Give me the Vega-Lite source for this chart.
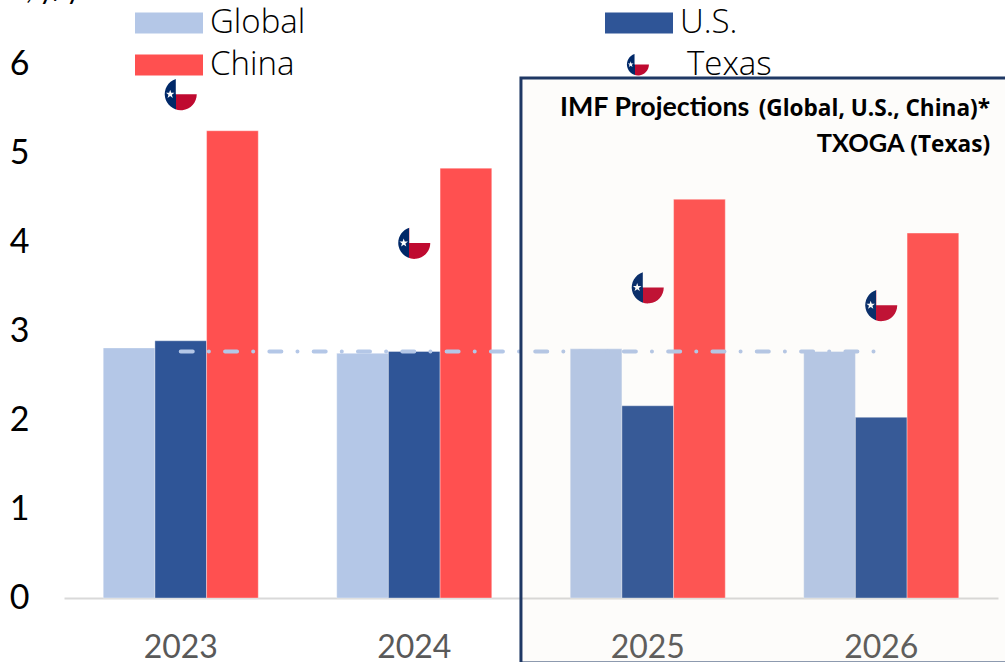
{
  "$schema": "https://vega.github.io/schema/vega-lite/v6.json",
  "width": 934,
  "height": 534,
  "autosize": "none",
  "padding": {"left": 64, "top": 64, "right": 7, "bottom": 64},
  "background": "#ffffff",
  "config": {"view": {"stroke": null}},
  "datasets": {
    "growth": [
      {"year": "2023", "series": "Global", "value": 2.81},
      {"year": "2023", "series": "U.S.", "value": 2.89},
      {"year": "2023", "series": "China", "value": 5.25},
      {"year": "2023", "series": "Texas", "value": 5.66},
      {"year": "2024", "series": "Global", "value": 2.75},
      {"year": "2024", "series": "U.S.", "value": 2.77},
      {"year": "2024", "series": "China", "value": 4.83},
      {"year": "2024", "series": "Texas", "value": 3.99},
      {"year": "2025", "series": "Global", "value": 2.8},
      {"year": "2025", "series": "U.S.", "value": 2.16},
      {"year": "2025", "series": "China", "value": 4.48},
      {"year": "2025", "series": "Texas", "value": 3.49},
      {"year": "2026", "series": "Global", "value": 2.77},
      {"year": "2026", "series": "U.S.", "value": 2.03},
      {"year": "2026", "series": "China", "value": 4.1},
      {"year": "2026", "series": "Texas", "value": 3.29}
    ],
    "globalAverage": [
      {"year": "2023", "value": 2.77},
      {"year": "2024", "value": 2.77},
      {"year": "2025", "value": 2.77},
      {"year": "2026", "value": 2.77}
    ]
  },
  "layer": [
    {
      "encoding": {
        "x": {
          "field": "year",
          "type": "nominal",
          "scale": {"domain": ["2023", "2024", "2025", "2026"], "paddingInner": 0.336, "paddingOuter": 0.168},
          "axis": {
            "title": null,
            "labelAngle": 0,
            "labelFont": "Lato",
            "labelFontSize": 32,
            "labelColor": "#595959",
            "labelPadding": 34,
            "ticks": false,
            "domainColor": "#D9D9D9",
            "domainWidth": 2
          }
        }
      },
      "layer": [
        {
          "data": {"name": "growth"},
          "transform": [{"filter": "datum.series !== 'Texas'"}],
          "mark": {"type": "bar", "stroke": "#ffffff", "strokeWidth": 0.6, "strokeOpacity": 0.6},
          "encoding": {
            "xOffset": {"field": "series", "type": "nominal", "scale": {"domain": ["Global", "U.S.", "China"]}},
            "y": {
              "field": "value",
              "type": "quantitative",
              "scale": {"domain": [0, 6], "nice": false},
              "axis": {
                "title": "%, y/y",
                "titleAngle": 0,
                "titleFont": "Lato",
                "titleFontSize": 29,
                "titleFontWeight": "normal",
                "titleColor": "#000000",
                "titleAlign": "left",
                "titleBaseline": "alphabetic",
                "titleX": -62,
                "titleY": -66,
                "values": [0, 1, 2, 3, 4, 5, 6],
                "format": "d",
                "grid": false,
                "domain": false,
                "ticks": false,
                "labelFont": "Lato",
                "labelFontSize": 34,
                "labelColor": "#000000",
                "labelPadding": 35
              }
            },
            "color": {
              "field": "series",
              "type": "nominal",
              "scale": {
                "domain": ["Global", "U.S.", "China", "Texas"],
                "range": ["#B4C7E7", "#2F5597", "#FF5050", "transparent"]
              },
              "legend": {
                "title": null,
                "orient": "none",
                "legendX": 71,
                "legendY": -62,
                "direction": "horizontal",
                "columns": 2,
                "columnPadding": 299,
                "rowPadding": 0,
                "clipHeight": 42,
                "padding": 0,
                "labelFont": "Open Sans",
                "labelFontWeight": 300,
                "labelFontSize": 33,
                "labelColor": "#000000",
                "labelOffset": 7,
                "symbolType": "M-1,-0.309H1V0.309H-1Z",
                "symbolSize": 4624,
                "symbolStrokeWidth": 0,
                "encoding": {
                  "labels": {
                    "dx": {
                      "condition": {"test": "datum.value === 'Texas'", "value": 7},
                      "value": 0
                    }
                  }
                }
              }
            }
          }
        },
        {
          "data": {"name": "globalAverage"},
          "mark": {
            "type": "line",
            "color": "#B4C7E7",
            "strokeWidth": 4,
            "strokeCap": "round",
            "strokeDash": [12, 16.1, 0.01, 16.2]
          },
          "encoding": {"y": {"field": "value", "type": "quantitative"}}
        },
        {
          "data": {"name": "growth"},
          "transform": [{"filter": "datum.series === 'Texas'"}],
          "mark": {"type": "point", "shape": "circle", "filled": true, "fill": "#ffffff", "opacity": 1, "size": 804},
          "encoding": {"y": {"field": "value", "type": "quantitative"}}
        },
        {
          "data": {"name": "growth"},
          "transform": [{"filter": "datum.series === 'Texas'"}],
          "mark": {
            "type": "point",
            "filled": true,
            "opacity": 1,
            "size": 1024,
            "shape": "M-0.31,-0.95A1,1 0 1 0 1,0L-0.31,0ZM-0.66,-0.28L-0.595,-0.089L-0.394,-0.087L-0.555,0.034L-0.495,0.227L-0.66,0.11L-0.825,0.227L-0.765,0.034L-0.926,-0.087L-0.725,-0.089Z",
            "fill": {
              "gradient": "linear",
              "x1": 0, "y1": 0, "x2": 1, "y2": 0,
              "stops": [
                {"offset": 0, "color": "#002868"},
                {"offset": 0.345, "color": "#002868"},
                {"offset": 0.345, "color": "#BF0A30"},
                {"offset": 1, "color": "#BF0A30"}
              ]
            }
          },
          "encoding": {"y": {"field": "value", "type": "quantitative"}}
        }
      ]
    },
    {
      "data": {"values": [{}]},
      "layer": [
        {
          "mark": {
            "type": "rect",
            "fill": "#D7C39B",
            "fillOpacity": 0.05,
            "stroke": "#1F3864",
            "strokeWidth": 3
          },
          "encoding": {
            "x": {"datum": 2024.457, "type": "quantitative", "scale": {"domain": [2022.5, 2026.5], "nice": false, "zero": false}, "axis": null},
            "x2": {"datum": 2026.6},
            "y": {"datum": 5.843, "type": "quantitative"},
            "y2": {"datum": -0.73}
          }
        },
        {
          "mark": {
            "type": "point",
            "filled": true,
            "opacity": 1,
            "size": 484,
            "shape": "M-0.31,-0.95A1,1 0 1 0 1,0L-0.31,0ZM-0.66,-0.28L-0.595,-0.089L-0.394,-0.087L-0.555,0.034L-0.495,0.227L-0.66,0.11L-0.825,0.227L-0.765,0.034L-0.926,-0.087L-0.725,-0.089Z",
            "fill": {
              "gradient": "linear",
              "x1": 0, "y1": 0, "x2": 1, "y2": 0,
              "stops": [
                {"offset": 0, "color": "#002868"},
                {"offset": 0.345, "color": "#002868"},
                {"offset": 0.345, "color": "#BF0A30"},
                {"offset": 1, "color": "#BF0A30"}
              ]
            }
          },
          "encoding": {
            "x": {"datum": 2024.958, "type": "quantitative"},
            "y": {"datum": 5.995, "type": "quantitative"}
          }
        },
        {
          "mark": {"type": "text", "text": "IMF Projections", "font": "Lato", "fontWeight": "bold", "fontSize": 26.8, "align": "right", "baseline": "alphabetic", "color": "#000000"},
          "encoding": {
            "x": {"datum": 2025.435, "type": "quantitative"},
            "y": {"datum": 5.416, "type": "quantitative"}
          }
        },
        {
          "mark": {"type": "text", "text": "(Global, U.S., China)*", "font": "Open Sans", "fontWeight": "bold", "fontSize": 22.6, "align": "right", "baseline": "alphabetic", "color": "#000000"},
          "encoding": {
            "x": {"datum": 2026.466, "type": "quantitative"},
            "y": {"datum": 5.416, "type": "quantitative"}
          }
        },
        {
          "mark": {"type": "text", "text": "TXOGA", "font": "Lato", "fontWeight": "bold", "fontSize": 25.4, "align": "right", "baseline": "alphabetic", "color": "#000000"},
          "encoding": {
            "x": {"datum": 2026.1, "type": "quantitative"},
            "y": {"datum": 5.01, "type": "quantitative"}
          }
        },
        {
          "mark": {"type": "text", "text": "(Texas)", "font": "Open Sans", "fontWeight": "bold", "fontSize": 22.6, "align": "right", "baseline": "alphabetic", "color": "#000000"},
          "encoding": {
            "x": {"datum": 2026.466, "type": "quantitative"},
            "y": {"datum": 5.01, "type": "quantitative"}
          }
        }
      ]
    }
  ],
  "resolve": {"scale": {"x": "independent"}}
}
